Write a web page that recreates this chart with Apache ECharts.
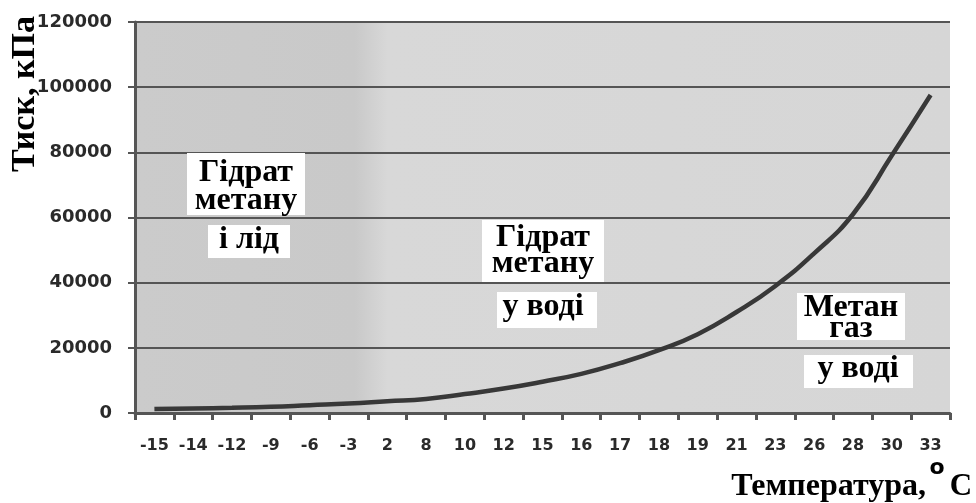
<!DOCTYPE html>
<html>
<head>
<meta charset="utf-8">
<script src="https://cdn.jsdelivr.net/npm/echarts@6/dist/echarts.min.js"></script>
<style>
  html, body { margin: 0; padding: 0; background: #fff; }
  #main { width: 976px; height: 503px; }
</style>
</head>
<body>
<div id="main"></div>
<script>
// температура, °C
var temps = ['-15', '-14', '-12', '-9', '-6', '-3', '2', '8', '10', '12', '15',
             '16', '17', '18', '19', '21', '23', '26', '28', '30', '33'];
// тиск рівноваги, кПа
var pressure = [1200, 1400, 1600, 1900, 2400, 2900, 3600, 4300, 5800, 7500, 9600,
                12000, 15300, 19300, 24200, 31000, 39000, 49000, 61000, 79000, 97600];
var yTicks = { min: 0, max: 120000, step: 20000 };

var serif = 'Liberation Serif';
var sans = 'DejaVu Sans';

var chart = echarts.init(document.getElementById('main'));

// білі підкладки під підписи областей
function box(x, y, w, h) {
    return { type: 'rect', shape: { x: x, y: y, width: w, height: h }, style: { fill: '#fff' }, z: 10 };
}
function label(x, y, txt) {
    return {
        type: 'text', x: x, y: y, z: 11,
        style: { text: txt, font: 'bold 32px "' + serif + '"', fill: '#000', align: 'center', verticalAlign: 'middle' }
    };
}

var option = {
    animation: false,
    backgroundColor: '#fff',
    textStyle: { fontFamily: sans },
    grid: {
        left: 135, right: 26, top: 22, bottom: 90,
        show: true,
        borderWidth: 0,
        backgroundColor: new echarts.graphic.LinearGradient(0, 0, 1, 0, [
            { offset: 0, color: '#cbcbcb' },
            { offset: 0.27, color: '#c9c9c9' },
            { offset: 0.31, color: '#d8d8d8' },
            { offset: 1, color: '#d6d6d6' }
        ])
    },
    xAxis: {
        type: 'category',
        data: temps,
        boundaryGap: true,
        axisLine: { lineStyle: { color: '#555', width: 3 } },
        axisTick: { show: true, interval: 0, length: 7, lineStyle: { color: '#555', width: 3 } },
        axisLabel: { interval: 0, margin: 25, color: '#2a2a2a', fontFamily: sans, fontWeight: 'bold', fontSize: 16 },
        splitLine: { show: false }
    },
    yAxis: {
        type: 'value',
        min: yTicks.min, max: yTicks.max, interval: yTicks.step,
        axisLine: { show: true, lineStyle: { color: '#555', width: 3 } },
        axisTick: { show: true, length: 7, lineStyle: { color: '#555', width: 2 } },
        axisLabel: {
            margin: 23, color: '#2a2a2a', fontFamily: sans, fontWeight: 'bold', fontSize: 18,
            formatter: function (v) { return String(v); }
        },
        splitLine: { show: true, lineStyle: { color: '#555', width: 2 } }
    },
    series: [{
        type: 'line',
        data: pressure,
        smooth: 0.5,
        showSymbol: false,
        lineStyle: { color: '#383838', width: 4.5 },
        z: 5
    }],
    graphic: [
        // назва осі Y
        {
            type: 'text', x: 25, y: 94, rotation: Math.PI / 2,
            style: { text: 'Тиск, кПа', font: 'bold 34px "' + serif + '"', fill: '#000', align: 'center', verticalAlign: 'middle' }
        },
        // назва осі X
        {
            type: 'text', x: 926, y: 487,
            style: { text: 'Температура,', font: 'bold 32px "' + serif + '"', fill: '#000', align: 'right', verticalAlign: 'middle' }
        },
        {
            type: 'text', x: 937, y: 468,
            style: { text: 'o', font: 'bold 22px "' + sans + '"', fill: '#000', align: 'center', verticalAlign: 'middle' }
        },
        {
            type: 'text', x: 961, y: 487,
            style: { text: 'C', font: 'bold 31px "' + serif + '"', fill: '#000', align: 'center', verticalAlign: 'middle' }
        },
        // Гідрат метану і лід
        box(187, 153, 118, 62), label(246, 173, 'Гідрат'), label(246, 201, 'метану'),
        box(208, 225, 82, 33), label(249, 240, 'і лід'),
        // Гідрат метану у воді
        box(482, 220, 122, 62), label(543, 238, 'Гідрат'), label(543, 264, 'метану'),
        box(497, 292, 100, 36), label(543, 307, 'у воді'),
        // Метан газ у воді
        box(797, 293, 108, 47), label(851, 308, 'Метан'), label(851, 329, 'газ'),
        box(804, 355, 109, 33), label(858, 369, 'у воді')
    ]
};

chart.setOption(option);
</script>
</body>
</html>
